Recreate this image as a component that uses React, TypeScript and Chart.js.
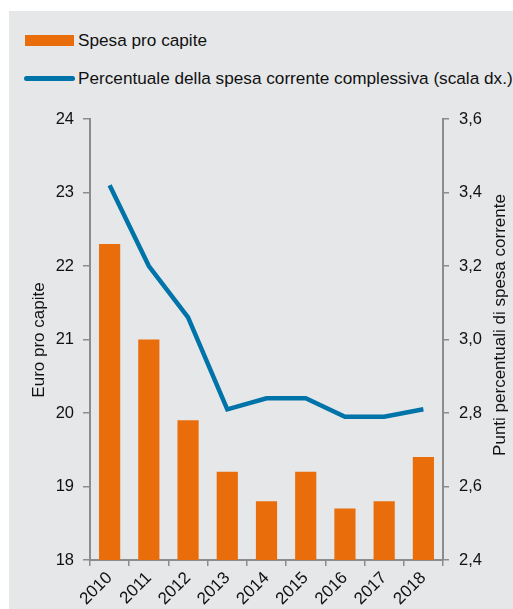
import React, { useEffect, useRef } from "react";
import { Chart, registerables } from "chart.js";

Chart.register(...registerables);

const years = ["2010", "2011", "2012", "2013", "2014", "2015", "2016", "2017", "2018"];
const spesaProCapite = [22.3, 21.0, 19.9, 19.2, 18.8, 19.2, 18.7, 18.8, 19.4];
const percentualeSpesa = [3.42, 3.2, 3.06, 2.81, 2.84, 2.84, 2.79, 2.79, 2.81];
const leftTitle = "Euro pro capite";
const rightTitle = "Punti percentuali di spesa corrente";
const legendBar = "Spesa pro capite";
const legendLine = "Percentuale della spesa corrente complessiva (scala dx.)";

const FONT = "'Liberation Sans', Arial, sans-serif";
const ORANGE = "#E96E0B";
const BLUE = "#0073A9";
const AXIS = "#8c8c8c";
const BG = "#e6e7e9";
const W = 504;
const H = 598;

const titlesPlugin = {
  id: "axisTitles",
  afterDraw(chart: any) {
    const ctx = chart.ctx;
    ctx.save();
    ctx.fillStyle = "#111";
    ctx.font = `17px ${FONT}`;
    ctx.textAlign = "center";
    ctx.textBaseline = "middle";
    ctx.translate(30, 329);
    ctx.rotate(-Math.PI / 2);
    ctx.fillText(leftTitle, 0, 0);
    ctx.restore();
    ctx.save();
    ctx.fillStyle = "#111";
    ctx.font = `17px ${FONT}`;
    ctx.textAlign = "center";
    ctx.textBaseline = "middle";
    ctx.translate(491, 314);
    ctx.rotate(-Math.PI / 2);
    ctx.fillText(rightTitle, 0, 0);
    ctx.restore();
  },
};

export default function App() {
  const ref = useRef<HTMLCanvasElement>(null);
  useEffect(() => {
    if (!ref.current) return;
    const chart = new Chart(ref.current, {
      type: "bar",
      data: {
        labels: years,
        datasets: [
          {
            type: "line",
            label: legendLine,
            data: percentualeSpesa,
            yAxisID: "y1",
            borderColor: BLUE,
            backgroundColor: BLUE,
            borderWidth: 4.5,
            pointRadius: 0,
            tension: 0,
            order: 0,
          } as any,
          {
            type: "bar",
            label: legendBar,
            data: spesaProCapite,
            yAxisID: "y",
            backgroundColor: ORANGE,
            barPercentage: 0.54,
            categoryPercentage: 1,
            order: 1,
          },
        ],
      },
      options: {
        responsive: false,
        animation: false,
        layout: { padding: { top: 108, left: 0, right: 0, bottom: 0 } },
        plugins: { legend: { display: false }, tooltip: { enabled: false } },
        scales: {
          x: {
            offset: true,
            grid: { display: true, drawOnChartArea: false, offset: true, tickLength: 6, color: AXIS, lineWidth: 1.5 },
            border: { color: AXIS, width: 2 },
            ticks: { color: "#111", font: { size: 17, family: FONT }, minRotation: 45, maxRotation: 45, padding: 2 },
            afterFit: (s: any) => { s.height = 49; },
          },
          y: {
            position: "left",
            min: 18,
            max: 24,
            ticks: { stepSize: 1, color: "#111", font: { size: 16.5, family: FONT }, padding: 9 },
            grid: { drawOnChartArea: false, tickLength: 7, color: AXIS, lineWidth: 1.5 },
            border: { color: AXIS, width: 2 },
            afterFit: (s: any) => { s.width = 81; },
          },
          y1: {
            position: "right",
            min: 2.4,
            max: 3.6,
            ticks: {
              stepSize: 0.2,
              color: "#111",
              font: { size: 16.5, family: FONT },
              padding: 10,
              callback: (v: any) => Number(v).toFixed(1).replace(".", ","),
            },
            grid: { drawOnChartArea: false, tickLength: 6, color: AXIS, lineWidth: 1.5 },
            border: { color: AXIS, width: 2 },
            afterFit: (s: any) => { s.width = 70; },
          },
        },
      },
      plugins: [titlesPlugin],
    });
    return () => chart.destroy();
  }, []);

  return (
    <div style={{ position: "fixed", left: 9, top: 11, width: W, height: H, background: BG, fontFamily: FONT }}>
      <div style={{ position: "absolute", left: 16, top: 24, width: 49, height: 11, background: ORANGE }} />
      <div style={{ position: "absolute", left: 69, top: 19, fontSize: 17.2, lineHeight: "20px", color: "#111", whiteSpace: "nowrap" }}>{legendBar}</div>
      <div style={{ position: "absolute", left: 15, top: 65, width: 51, height: 5, borderRadius: 3, background: BLUE }} />
      <div style={{ position: "absolute", left: 69, top: 57, fontSize: 17.2, lineHeight: "20px", color: "#111", whiteSpace: "nowrap" }}>{legendLine}</div>
      <canvas ref={ref} width={W} height={H} style={{ position: "absolute", left: 0, top: 0, width: W, height: H }} />
    </div>
  );
}
